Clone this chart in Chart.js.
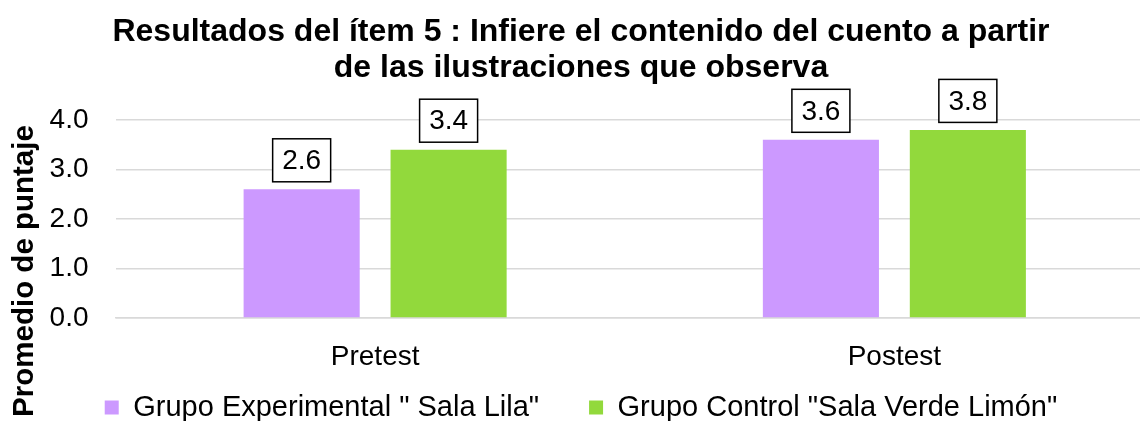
<!DOCTYPE html>
<html>
<head>
<meta charset="utf-8">
<script src="https://cdn.jsdelivr.net/npm/chart.js@4"></script>
<style>
  html, body { margin: 0; padding: 0; background: #fff; overflow: hidden; }
  #wrap { width: 1154px; height: 421px; position: relative; }
</style>
</head>
<body>
<div id="wrap"><canvas id="item5_chart"></canvas></div>
<script>
var categories = ["Pretest", "Postest"];
var experimental = [2.6, 3.6];
var control = [3.4, 3.8];
var seriesNames = ['Grupo Experimental " Sala Lila"', 'Grupo Control "Sala Verde Limón"'];
var titleLines = ["Resultados del ítem 5 : Infiere el contenido del cuento a partir", "de las ilustraciones que observa"];
var yTitle = "Promedio de puntaje";

var ctx_bar = document.getElementById("item5_chart");
var fontName = "'Liberation Sans', Arial, sans-serif";

// boxed value labels above the bars
var boxLabels = {
    id: 'boxLabels',
    afterDatasetsDraw: function(chart) {
        var c = chart.ctx;
        c.save();
        c.font = "28px " + fontName;
        c.textAlign = "center";
        c.textBaseline = "middle";
        chart.data.datasets.forEach(function(ds, i) {
            chart.getDatasetMeta(i).data.forEach(function(bar, j) {
                var txt = ds.data[j].toFixed(1);
                var w = 58, h = 43;
                var x = bar.x - w / 2, y = bar.y - 7.5 - h;
                c.fillStyle = "#fff";
                c.fillRect(x, y, w, h);
                c.strokeStyle = "#000";
                c.lineWidth = 1.5;
                c.strokeRect(x, y, w, h);
                c.fillStyle = "#000";
                c.fillText(txt, bar.x, y + h / 2 + 1);
            });
        });
        c.restore();
    }
};

// y axis title centred on the whole chart height, and legend kept low like the original
var sideTitle = {
    id: 'sideTitle',
    beforeLayout: function(chart) {
        var lg = chart.legend;
        if (lg && !lg._fixed) {
            var fit = lg.fit;
            lg.fit = function() { fit.call(this); this.height = 49.5; };
            lg._fixed = true;
        }
    },
    afterLayout: function(chart) {
        // legend is clipped to its own box, so stretch the box to the canvas bottom
        var lg = chart.legend;
        lg.top = 343;
        lg.bottom = chart.height;
        lg.height = lg.bottom - lg.top;
    },
    afterDraw: function(chart) {
        var c = chart.ctx;
        c.save();
        c.translate(25, 271);
        c.rotate(-Math.PI / 2);
        c.font = "bold 29.5px " + fontName;
        c.fillStyle = "#000";
        c.textAlign = "center";
        c.textBaseline = "middle";
        c.fillText(yTitle, 0, 0);
        c.restore();
    }
};

var data = {
    labels: categories,
    datasets: [
        {
            label: seriesNames[0],
            data: experimental,
            backgroundColor: "#cc99ff",
            borderWidth: 0,
            barPercentage: 0.79,
            categoryPercentage: 0.566
        },
        {
            label: seriesNames[1],
            data: control,
            backgroundColor: "#92d93c",
            borderWidth: 0,
            barPercentage: 0.79,
            categoryPercentage: 0.566
        }
    ]
};

var options = {
    responsive: true,
    maintainAspectRatio: false,
    animation: false,
    layout: { padding: { left: 8, right: 0, top: 0, bottom: 0 } },
    plugins: {
        title: {
            display: true,
            text: titleLines,
            color: "#000",
            font: { family: fontName, size: 32, weight: "bold", lineHeight: 1.125 },
            padding: { top: 14, bottom: 34 }
        },
        legend: {
            position: "bottom",
            labels: {
                color: "#000",
                font: { family: fontName, size: 29 },
                boxWidth: 14,
                boxHeight: 14,
                padding: 50
            }
        },
        tooltip: { enabled: false }
    },
    scales: {
        x: {
            grid: { display: false, drawTicks: false },
            border: { color: "#d9d9d9", width: 1.5 },
            ticks: { color: "#000", font: { family: fontName, size: 28 }, padding: 22 },
            afterFit: function(scale) { scale.height = 53.5; }
        },
        y: {
            min: 0,
            max: 4,
            grid: { color: "#d9d9d9", lineWidth: 1.5, drawTicks: false },
            border: { display: false },
            ticks: {
                stepSize: 1,
                color: "#000",
                padding: 27,
                font: { family: fontName, size: 28 },
                callback: function(v) { return v.toFixed(1); }
            },
            afterFit: function(scale) { scale.width = 107.5; }
        }
    }
};

var chart = new Chart(ctx_bar, {
    type: 'bar',
    data: data,
    options: options,
    plugins: [boxLabels, sideTitle]
});
</script>
</body>
</html>
